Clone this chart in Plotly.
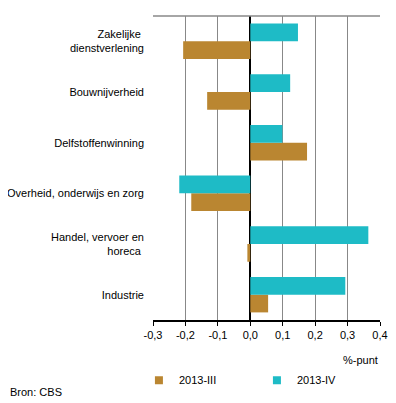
import plotly.graph_objects as go

categories = ["Industrie", "Handel, vervoer en<br>horeca ", "Overheid, onderwijs en zorg",
              "Delfstoffenwinning", "Bouwnijverheid", "Zakelijke <br>dienstverlening"]
q3_2013 = [0.055, -0.009, -0.182, 0.175, -0.133, -0.207]
q4_2013 = [0.293, 0.364, -0.219, 0.099, 0.123, 0.147]
series_names = ["2013-III", "2013-IV"]
series_colors = ["#BA8631", "#1EBBC6"]
tick_vals = [-0.3, -0.2, -0.1, 0.0, 0.1, 0.2, 0.3, 0.4]
tick_text = ["-0,3", "-0,2", "-0,1", "0,0", "0,1", "0,2", "0,3", "0,4"]

fig = go.Figure()
for vals, name, color in zip([q3_2013, q4_2013], series_names, series_colors):
    fig.add_trace(go.Bar(y=categories, x=vals, orientation="h", name=name,
                         marker=dict(color=color, line=dict(width=0)), showlegend=False))
# legend entries with small square markers
for name, color in zip(series_names, series_colors):
    fig.add_trace(go.Scatter(x=[None], y=[None], mode="markers", name=name,
                             marker=dict(symbol="square", size=8, color=color),
                             showlegend=True))

fig.update_layout(
    width=388, height=395,
    margin=dict(l=145, r=16, t=8, b=79),
    paper_bgcolor="white", plot_bgcolor="white",
    barmode="group", bargap=0.3, bargroupgap=0,
    font=dict(family="Liberation Sans, Arial, sans-serif", size=11, color="black"),
    showlegend=True,
    legend=dict(orientation="h", x=-0.062, y=-0.198, xanchor="left", yanchor="middle",
                entrywidth=73, entrywidthmode="pixels",
                font=dict(size=11), itemwidth=30, traceorder="normal",
                bgcolor="rgba(0,0,0,0)"),
    xaxis=dict(range=[-0.3, 0.4], tickvals=tick_vals, ticktext=tick_text,
               showgrid=True, gridcolor="#888888", gridwidth=1,
               zeroline=True, zerolinecolor="black", zerolinewidth=2,
               showline=True, linecolor="black", linewidth=1.5,
               ticks="outside", ticklen=4, tickcolor="black", fixedrange=True,
               automargin=False),
    yaxis=dict(showgrid=False, zeroline=False, showline=False, ticks="",
               ticklabelstandoff=8, fixedrange=True, automargin=False),
    annotations=[
        dict(text="%-punt", xref="paper", yref="paper", x=1.0, y=-0.133,
             xanchor="right", yanchor="middle", showarrow=False, font=dict(size=11)),
        dict(text="Bron: CBS", xref="paper", yref="paper", x=-0.639, y=-0.238,
             xanchor="left", yanchor="middle", showarrow=False, font=dict(size=11)),
    ],
    shapes=[dict(type="line", xref="paper", yref="paper", x0=0, x1=1, y0=1, y1=1,
                 line=dict(color="#888888", width=1.5))],
)

fig.write_html("out.html")
